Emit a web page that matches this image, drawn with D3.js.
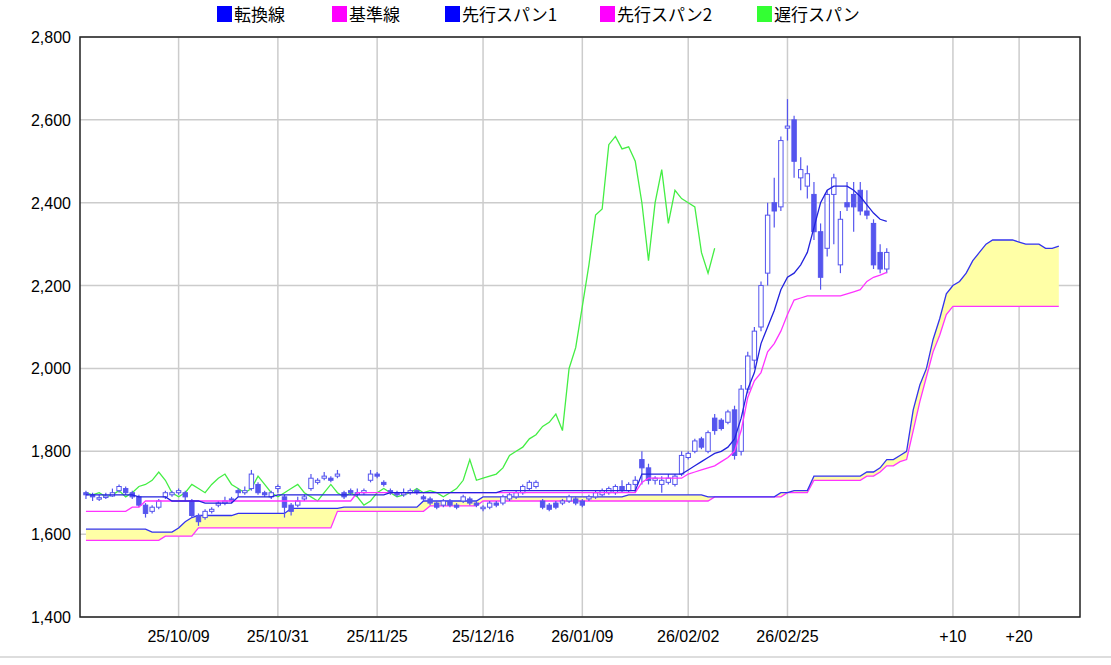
<!DOCTYPE html>
<html><head><meta charset="utf-8">
<script src="https://cdn.jsdelivr.net/npm/d3@7"></script>
<style>body{margin:0;background:#fff;font-family:"Noto Sans CJK JP","Liberation Sans",sans-serif}</style>
</head><body><svg id="chart" width="1111" height="665"></svg>
<script>
// candles [open, high, low, close], one per trading day
const candles = [
[1700,1705,1685,1695],[1695,1700,1680,1690],[1685,1695,1680,1688],[1690,1700,1685,1692],[1692,1710,1690,1700],
[1705,1720,1700,1715],[1710,1715,1695,1700],[1700,1705,1685,1690],[1690,1695,1665,1670],[1670,1675,1640,1650],
[1655,1670,1650,1665],[1665,1685,1660,1680],[1690,1705,1685,1700],[1695,1705,1690,1700],[1700,1710,1695,1705],
[1700,1705,1680,1690],[1680,1685,1640,1645],[1645,1650,1620,1630],[1640,1660,1635,1655],[1655,1665,1650,1660],
[1670,1680,1665,1675],[1675,1690,1670,1680],[1685,1690,1675,1680],[1705,1710,1690,1700],[1700,1715,1695,1705],
[1710,1755,1705,1745],[1720,1725,1695,1700],[1700,1705,1690,1695],[1690,1705,1685,1700],[1710,1720,1700,1715],
[1690,1695,1640,1665],[1670,1675,1645,1655],[1670,1690,1665,1680],[1685,1695,1680,1690],[1710,1745,1705,1735],
[1725,1735,1720,1730],[1735,1750,1730,1740],[1735,1740,1725,1730],[1740,1755,1735,1745],[1700,1705,1685,1690],
[1705,1710,1695,1700],[1700,1710,1690,1700],[1700,1710,1695,1705],[1730,1755,1725,1745],[1745,1750,1735,1740],
[1725,1730,1715,1720],[1705,1710,1695,1700],[1700,1705,1690,1695],[1695,1710,1690,1700],[1700,1710,1695,1705],
[1705,1710,1695,1700],[1690,1695,1680,1685],[1685,1690,1670,1675],[1675,1680,1660,1665],[1670,1685,1665,1680],
[1680,1685,1665,1670],[1670,1675,1660,1665],[1680,1695,1675,1690],[1685,1690,1670,1675],[1675,1680,1665,1670],
[1665,1670,1655,1665],[1665,1680,1660,1675],[1675,1680,1665,1670],[1675,1695,1670,1690],[1685,1700,1680,1695],
[1690,1705,1685,1700],[1700,1720,1695,1715],[1710,1730,1705,1725],[1715,1730,1710,1725],[1680,1685,1660,1665],
[1670,1675,1655,1660],[1675,1680,1660,1665],[1675,1685,1670,1680],[1680,1695,1675,1690],[1685,1690,1670,1675],
[1680,1685,1665,1670],[1685,1695,1680,1690],[1690,1705,1685,1700],[1695,1710,1690,1705],[1700,1715,1695,1710],
[1700,1720,1695,1715],[1715,1730,1700,1705],[1705,1725,1700,1720],[1720,1740,1700,1730],[1780,1800,1720,1760],
[1760,1770,1720,1730],[1730,1740,1720,1735],[1720,1740,1700,1730],[1725,1745,1720,1735],[1720,1745,1715,1740],
[1745,1800,1740,1790],[1785,1800,1780,1795],[1800,1830,1795,1825],[1830,1835,1805,1810],[1800,1850,1795,1845],
[1880,1890,1840,1850],[1875,1880,1850,1855],[1870,1900,1865,1895],[1900,1910,1780,1790],[1800,1960,1790,1950],
[1950,2040,1940,2030],[2020,2100,2000,2090],[2100,2210,2090,2200],[2230,2400,2200,2370],[2400,2460,2340,2380],
[2390,2560,2380,2550],[2580,2650,2550,2585],[2600,2610,2460,2500],[2460,2510,2430,2480],[2440,2490,2410,2470],
[2420,2450,2310,2330],[2330,2350,2190,2220],[2290,2430,2270,2420],[2420,2470,2300,2460],[2250,2380,2230,2360],
[2400,2450,2380,2390],[2420,2450,2330,2390],[2430,2450,2370,2380],[2380,2430,2360,2370],[2350,2360,2240,2250],
[2280,2300,2230,2240],[2240,2290,2230,2280]
];
const tenkan = [
1695,1695,1695,1695,1695,1695,1695,1695,1690,1690,1690,1690,1690,1680,1680,1680,1680,1680,1675,1675,
1675,1675,1675,1690,1690,1690,1690,1690,1690,1695,1695,1695,1695,1695,1695,1695,1695,1695,1695,1695,
1695,1695,1695,1695,1695,1695,1700,1700,1700,1700,1700,1700,1700,1700,1700,1700,1700,1700,1700,1700,
1700,1700,1700,1705,1705,1705,1705,1705,1705,1705,1705,1705,1705,1705,1705,1705,1705,1705,1705,1705,
1705,1705,1705,1705,1745,1745,1745,1745,1745,1745,1745,1755,1765,1775,1785,1795,1800,1810,1830,1880,
1950,1990,2060,2100,2140,2190,2220,2230,2250,2280,2340,2400,2430,2440,2440,2440,2430,2415,2395,2375,
2360,2355
];
const kijun = [
1655,1655,1655,1655,1655,1655,1655,1665,1665,1680,1680,1680,1680,1680,1680,1680,1680,1680,1680,1680,
1680,1680,1680,1680,1680,1680,1680,1680,1680,1680,1680,1680,1680,1680,1680,1680,1680,1680,1680,1680,
1680,1700,1700,1700,1700,1700,1700,1700,1700,1700,1700,1700,1700,1700,1700,1700,1700,1700,1700,1700,
1700,1700,1700,1700,1700,1700,1700,1700,1700,1700,1700,1700,1700,1700,1700,1700,1700,1700,1700,1700,
1700,1700,1700,1700,1725,1735,1735,1735,1735,1735,1735,1745,1750,1755,1760,1765,1775,1785,1800,1850,
1930,1970,1990,2040,2060,2090,2130,2165,2170,2175,2175,2175,2175,2175,2175,2180,2185,2190,2210,2220,
2225,2232
];
const spanA = [
1612,1612,1612,1612,1612,1612,1612,1612,1612,1612,1605,1605,1605,1605,1615,1630,1640,1645,1645,1645,
1645,1645,1645,1650,1650,1650,1650,1650,1650,1650,1650,1662,1662,1662,1662,1662,1662,1662,1662,1665,
1665,1665,1665,1665,1665,1665,1665,1665,1665,1665,1665,1680,1680,1680,1680,1680,1680,1680,1680,1680,
1690,1690,1690,1690,1690,1690,1690,1690,1690,1690,1690,1690,1690,1690,1690,1690,1690,1690,1690,1690,
1690,1690,1695,1695,1695,1695,1695,1695,1695,1695,1695,1695,1695,1695,1690,1690,1690,1690,1690,1690,
1690,1690,1690,1690,1690,1700,1700,1705,1705,1705,1740,1740,1740,1740,1740,1740,1740,1740,1750,1750,
1760,1780,1780,1790,1800,1900,1960,2000,2070,2120,2180,2200,2210,2230,2260,2280,2300,2310,2310,2310,
2310,2305,2300,2300,2300,2290,2290,2295
];
const spanB = [
1585,1585,1585,1585,1585,1585,1585,1585,1585,1585,1585,1585,1595,1595,1595,1595,1595,1615,1615,1615,
1615,1615,1615,1615,1615,1615,1615,1615,1615,1615,1615,1615,1615,1615,1615,1615,1615,1615,1655,1655,
1655,1655,1655,1655,1655,1655,1655,1655,1655,1655,1655,1655,1668,1668,1668,1668,1668,1668,1668,1668,
1680,1680,1680,1680,1680,1680,1680,1680,1680,1680,1680,1680,1680,1680,1680,1680,1680,1680,1680,1680,
1680,1680,1680,1680,1680,1680,1680,1680,1680,1680,1680,1680,1680,1680,1680,1690,1690,1690,1690,1690,
1690,1690,1690,1690,1690,1690,1700,1700,1700,1700,1730,1730,1730,1730,1730,1730,1730,1730,1740,1740,
1750,1765,1765,1775,1780,1850,1920,1980,2040,2080,2130,2150,2150,2150,2150,2150,2150,2150,2150,2150,
2150,2150,2150,2150,2150,2150,2150,2150
];
const chikou = [
1700,1695,1700,1690,1695,1705,1690,1700,1715,1720,1730,1750,1730,1700,1690,1700,1720,1710,1700,1720,
1735,1745,1720,1710,1700,1710,1740,1720,1700,1690,1700,1710,1720,1700,1690,1680,1700,1720,1700,1690,
1700,1690,1670,1680,1700,1710,1700,1690,1695,1700,1710,1700,1705,1700,1690,1700,1710,1730,1780,1730,
1735,1740,1745,1760,1790,1800,1810,1830,1840,1860,1870,1890,1850,2000,2050,2150,2250,2370,2385,2540,
2560,2530,2535,2500,2400,2260,2400,2480,2350,2430,2410,2400,2390,2280,2230,2290
];
const dateTicks = [[14,"25/10/09"],[29,"25/10/31"],[44,"25/11/25"],[60,"25/12/16"],[75,"26/01/09"],[91,"26/02/02"],[106,"26/02/25"],[131,"+10"],[141,"+20"]];
const yTicks = [1400,1600,1800,2000,2200,2400,2600,2800];
const legend = [["転換線","#0000ff"],["基準線","#ff00ff"],["先行スパン1","#0000ff"],["先行スパン2","#ff00ff"],["遅行スパン","#33ff33"]];

const L = 80, R = 1080, T = 37, B = 617;
const svg = d3.select("#chart");
const x = d3.scaleLinear().domain([-0.9, 150.2]).range([L, R]);
const y = d3.scaleLinear().domain([1400, 2800]).range([B, T]);

// grid
svg.append("g").selectAll("line").data(yTicks).join("line")
  .attr("x1", L).attr("x2", R).attr("y1", d => y(d)).attr("y2", d => y(d))
  .attr("stroke", "#cccccc").attr("stroke-width", 1.5);
svg.append("g").selectAll("line").data(dateTicks).join("line")
  .attr("x1", d => x(d[0])).attr("x2", d => x(d[0])).attr("y1", T).attr("y2", B)
  .attr("stroke", "#cccccc").attr("stroke-width", 1.5);

// cloud
const idx = d3.range(spanA.length);
svg.append("path").datum(idx)
  .attr("d", d3.area().x(i => x(i)).y0(i => y(spanB[i])).y1(i => y(spanA[i])))
  .attr("fill", "#ffffa6");

const line = arr => d3.line().x((d, i) => x(i)).y(d => y(d))(arr);
svg.append("path").attr("d", line(spanB)).attr("fill", "none").attr("stroke", "#ff33ff").attr("stroke-width", 1.3);
svg.append("path").attr("d", line(spanA)).attr("fill", "none").attr("stroke", "#3333ee").attr("stroke-width", 1.3);
svg.append("path").attr("d", line(chikou)).attr("fill", "none").attr("stroke", "#44ee44").attr("stroke-width", 1.3);

// candles
const cw = 4.4;
const cg = svg.append("g").selectAll("g").data(candles).join("g");
cg.append("line").attr("x1", (d, i) => x(i)).attr("x2", (d, i) => x(i))
  .attr("y1", d => y(d[1])).attr("y2", d => y(d[2])).attr("stroke", "#5555ee").attr("stroke-width", 1.2);
cg.append("rect").attr("x", (d, i) => x(i) - cw / 2).attr("width", cw)
  .attr("y", d => y(Math.max(d[0], d[3])))
  .attr("height", d => Math.max(1.5, Math.abs(y(d[0]) - y(d[3]))))
  .attr("fill", d => d[3] >= d[0] ? "#ffffff" : "#5555ee")
  .attr("stroke", "#5555ee").attr("stroke-width", 1);

svg.append("path").attr("d", line(kijun)).attr("fill", "none").attr("stroke", "#ff33ff").attr("stroke-width", 1.3);
svg.append("path").attr("d", line(tenkan)).attr("fill", "none").attr("stroke", "#2222dd").attr("stroke-width", 1.3);

// frame
svg.append("rect").attr("x", L).attr("y", T).attr("width", R - L).attr("height", B - T)
  .attr("fill", "none").attr("stroke", "#222").attr("stroke-width", 1.5);

// axes labels
svg.append("g").selectAll("text").data(yTicks).join("text")
  .attr("x", 71).attr("y", d => y(d) + 6).attr("text-anchor", "end")
  .attr("font-size", 16).attr("font-family", "Liberation Sans, sans-serif")
  .text(d3.format(","));
svg.append("g").selectAll("text").data(dateTicks).join("text")
  .attr("x", d => x(d[0])).attr("y", 642).attr("text-anchor", "middle")
  .attr("font-size", 16).attr("font-family", "Liberation Sans, sans-serif")
  .text(d => d[1]);

// legend
const lx = [217, 332, 445, 600, 757];
const lg = svg.append("g").selectAll("g").data(legend).join("g")
  .attr("transform", (d, i) => `translate(${lx[i]},6)`);
lg.append("rect").attr("width", 15).attr("height", 16).attr("fill", d => d[1]);
lg.append("text").attr("x", 17).attr("y", 15).attr("font-size", 17).text(d => d[0]);

svg.append("line").attr("x1", 0).attr("x2", 1111).attr("y1", 657).attr("y2", 657).attr("stroke", "#bbb");
</script></body></html>
